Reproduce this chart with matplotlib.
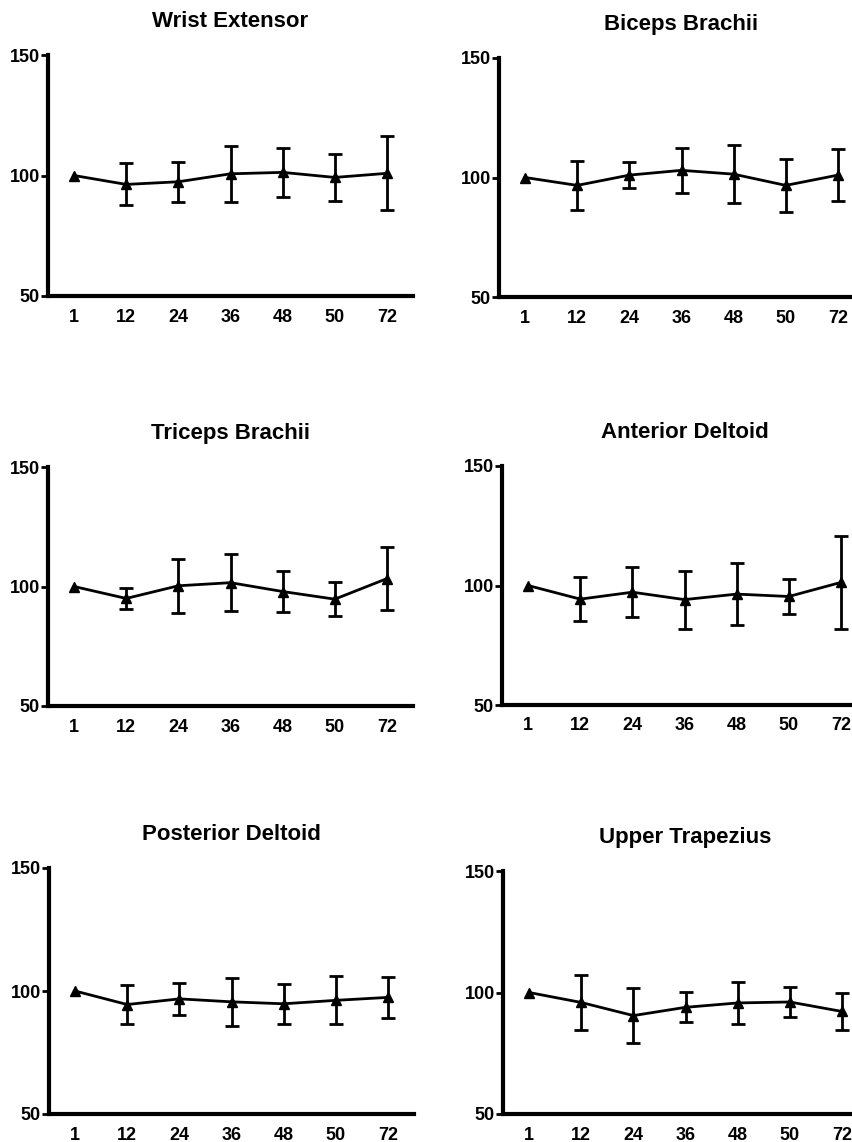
import matplotlib
matplotlib.use('Agg')
import matplotlib.pyplot as plt

plt.rcParams['font.family'] = ['Liberation Sans', 'DejaVu Sans']
plt.rcParams['font.weight'] = 'bold'

# time points (hours) shown as categories
times = ['1', '12', '24', '36', '48', '50', '72']

wrist_ext_mean = [100, 96.3, 97.4, 100.7, 101.3, 99.2, 100.9]
wrist_ext_err = [0, 8.7, 8.4, 11.7, 10.1, 9.8, 15.4]

biceps_mean = [100, 96.7, 101.0, 103.0, 101.4, 96.7, 101.0]
biceps_err = [0, 10.4, 5.6, 9.5, 12.1, 11.0, 11.0]

triceps_mean = [100, 95.0, 100.3, 101.6, 97.9, 94.7, 103.3]
triceps_err = [0, 4.4, 11.4, 12.0, 8.6, 7.0, 13.1]

ant_delt_mean = [100, 94.3, 97.2, 94.1, 96.4, 95.4, 101.3]
ant_delt_err = [0, 9.2, 10.4, 12.1, 13.1, 7.4, 19.5]

post_delt_mean = [100, 94.5, 96.8, 95.6, 94.8, 96.2, 97.4]
post_delt_err = [0, 7.9, 6.6, 9.7, 8.1, 9.8, 8.2]

up_trap_mean = [100, 95.9, 90.5, 93.9, 95.7, 96.1, 92.2]
up_trap_err = [0, 11.3, 11.4, 6.2, 8.7, 6.1, 7.6]

titles = ['Wrist Extensor', 'Biceps Brachii', 'Triceps Brachii',
          'Anterior Deltoid', 'Posterior Deltoid', 'Upper Trapezius']
means = [wrist_ext_mean, biceps_mean, triceps_mean,
         ant_delt_mean, post_delt_mean, up_trap_mean]
errs = [wrist_ext_err, biceps_err, triceps_err,
        ant_delt_err, post_delt_err, up_trap_err]

W, H = 852, 1142
fig = plt.figure(figsize=(W / 100, H / 100), dpi=100)

# axes boxes in pixels: left, top, bottom (width is the same for all)
boxes = [(48, 55, 296), (499, 58, 297),
         (48, 467, 706), (502, 466, 705),
         (49, 868, 1114), (503, 871, 1114)]
aw = 365

x = list(range(len(times)))
for i in range(6):
    left, top, bottom = boxes[i]
    ax = fig.add_axes([left / W, 1 - bottom / H, aw / W, (bottom - top) / H])
    ax.plot(x, means[i], color='black', lw=2, marker='^', markersize=7)
    # baseline point has no error bar
    ax.errorbar(x[1:], means[i][1:], yerr=errs[i][1:], fmt='none',
                ecolor='black', capsize=5, capthick=2, elinewidth=2)
    ax.set_xlim(-0.5, 6.5)
    ax.set_ylim(50, 150)
    ax.set_yticks([50, 100, 150])
    ax.set_xticks(x)
    ax.set_xticklabels(times)
    for s in ['top', 'right']:
        ax.spines[s].set_visible(False)
    for s in ['left', 'bottom']:
        ax.spines[s].set_linewidth(3)
    ax.tick_params(axis='y', length=5, width=2, pad=1, labelsize=13)
    ax.tick_params(axis='x', length=0, pad=9, labelsize=13)
    ax.set_title(titles[i], fontsize=16, fontweight='bold', pad=20)

plt.savefig('out.png', dpi=100)
